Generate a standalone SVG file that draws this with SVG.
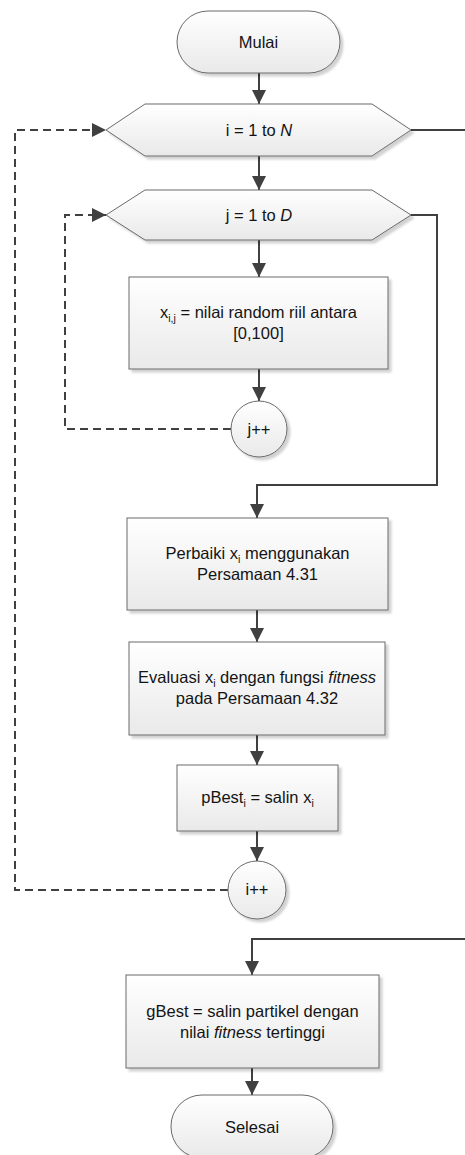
<svg xmlns="http://www.w3.org/2000/svg" width="465" height="1155" viewBox="0 0 465 1155">
<defs>
<linearGradient id="g" x1="0" y1="0" x2="0" y2="1">
<stop offset="0" stop-color="#ffffff"/>
<stop offset="1" stop-color="#e9e9e9"/>
</linearGradient>
<filter id="sh" x="-10%" y="-10%" width="130%" height="130%">
<feDropShadow dx="3" dy="3" stdDeviation="1.2" flood-color="#000" flood-opacity="0.18"/>
</filter>
<marker id="ah" viewBox="0 0 14 14" refX="14" refY="7" markerWidth="14" markerHeight="14" markerUnits="userSpaceOnUse" orient="auto">
<path d="M0,0 L14,7 L0,14 z" fill="#404040"/>
</marker>
<style>
.s{fill:url(#g);stroke:#6a6a6a;stroke-width:1;filter:url(#sh)}
.t{font-family:"Liberation Sans",Arial,sans-serif;font-size:16.5px;fill:#141414;text-anchor:middle}
.sub{font-size:10.5px}
.c{fill:none;stroke:#404040;stroke-width:2}
.d{fill:none;stroke:#404040;stroke-width:2;stroke-dasharray:8,5}
</style>
</defs>
<g id="connectors">
<path class="c" d="M259,73 V104" marker-end="url(#ah)"/>
<path class="c" d="M259,156 V190" marker-end="url(#ah)"/>
<path class="c" d="M259,240 V277" marker-end="url(#ah)"/>
<path class="c" d="M259,369 V401" marker-end="url(#ah)"/>
<path class="d" d="M231,429 H65 V215 H106" marker-end="url(#ah)"/>
<path class="c" d="M411,215 H437 V485 H257 V518" marker-end="url(#ah)"/>
<path class="c" d="M257,610 V642" marker-end="url(#ah)"/>
<path class="c" d="M257,735 V765" marker-end="url(#ah)"/>
<path class="c" d="M257,831 V861" marker-end="url(#ah)"/>
<path class="d" d="M228,890 H15 V130 H106" marker-end="url(#ah)"/>
<path class="c" d="M411,130 H465"/>
<path class="c" d="M465,939 H252 V975" marker-end="url(#ah)"/>
<path class="c" d="M252,1068 V1095" marker-end="url(#ah)"/>
</g>
<g id="mulai">
<rect class="s" x="177" y="11" width="163" height="62" rx="31" ry="31"/>
<text class="t" x="258.5" y="48">Mulai</text>
</g>
<g id="loop-i">
<polygon class="s" points="106,130 145,104 372,104 411,130 372,156 145,156"/>
<text class="t" x="259" y="135.5">i = 1 to <tspan font-style="italic">N</tspan></text>
</g>
<g id="loop-j">
<polygon class="s" points="106,215 145,190 372,190 411,215 372,240 145,240"/>
<text class="t" x="259" y="220.5">j = 1 to <tspan font-style="italic">D</tspan></text>
</g>
<g id="init-x">
<rect class="s" x="129" y="277" width="259" height="92"/>
<text class="t" x="258.5" y="318">x<tspan class="sub" dy="4">i,j</tspan><tspan dy="-4"> = nilai random riil antara</tspan></text>
<text class="t" x="258.5" y="339">[0,100]</text>
</g>
<g id="j-inc">
<circle class="s" cx="259" cy="429" r="28"/>
<text class="t" x="259" y="434.5">j++</text>
</g>
<g id="perbaiki">
<rect class="s" x="127" y="518" width="261" height="92"/>
<text class="t" x="257.5" y="559">Perbaiki x<tspan class="sub" dy="4">i</tspan><tspan dy="-4"> menggunakan</tspan></text>
<text class="t" x="257.5" y="580">Persamaan 4.31</text>
</g>
<g id="evaluasi">
<rect class="s" x="129" y="642" width="256" height="93"/>
<text class="t" x="257" y="683">Evaluasi x<tspan class="sub" dy="4">i</tspan><tspan dy="-4"> dengan fungsi </tspan><tspan font-style="italic">fitness</tspan></text>
<text class="t" x="257" y="704">pada Persamaan 4.32</text>
</g>
<g id="pbest">
<rect class="s" x="177" y="765" width="161" height="66"/>
<text class="t" x="257.5" y="803">pBest<tspan class="sub" dy="4">i</tspan><tspan dy="-4"> = salin x</tspan><tspan class="sub" dy="4">i</tspan></text>
</g>
<g id="i-inc">
<circle class="s" cx="257" cy="890" r="29"/>
<text class="t" x="257" y="895">i++</text>
</g>
<g id="gbest">
<rect class="s" x="126" y="975" width="253" height="93"/>
<text class="t" x="252.5" y="1017">gBest = salin partikel dengan</text>
<text class="t" x="252.5" y="1038">nilai <tspan font-style="italic">fitness</tspan> tertinggi</text>
</g>
<g id="selesai">
<rect class="s" x="171" y="1095" width="162" height="63" rx="31" ry="31"/>
<text class="t" x="252" y="1133">Selesai</text>
</g>
</svg>
